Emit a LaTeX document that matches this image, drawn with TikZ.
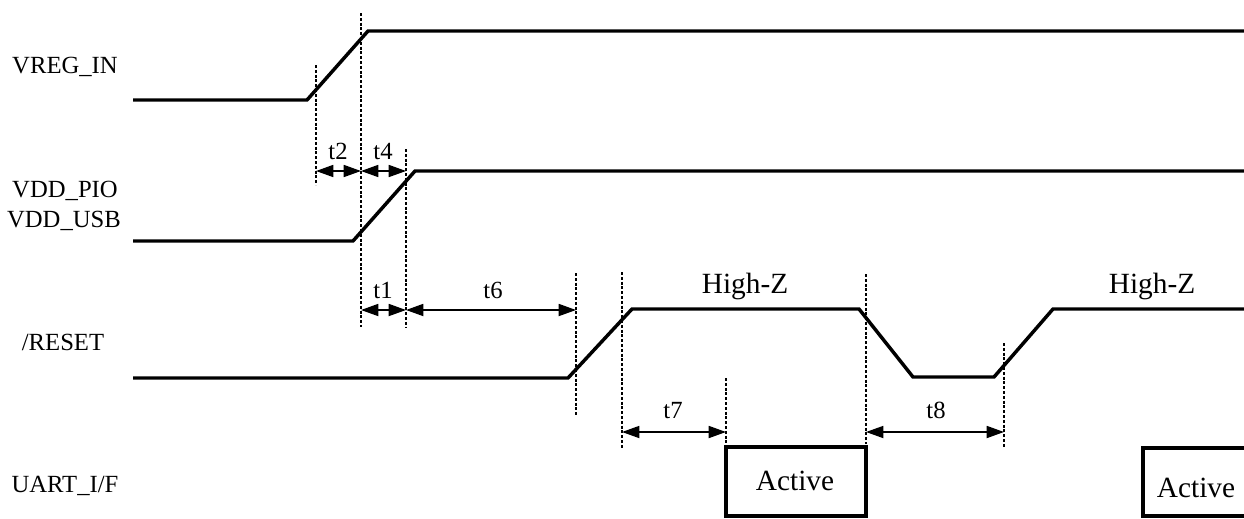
\documentclass[tikz,border=0pt]{standalone}
\usepackage{fontspec}
\setmainfont{Liberation Serif}
\usetikzlibrary{arrows.meta}
\begin{document}
\begin{tikzpicture}[x=0.75pt,y=-0.75pt,
  sig/.style={line width=2.6pt},
  guide/.style={line width=0.8pt, dash pattern=on 2.2pt off 1.4pt},
  dim/.style={line width=1.3pt, {Triangle[length=13pt,width=9pt]}-{Triangle[length=13pt,width=9pt]}},
  lbl/.style={font=\fontsize{18.5}{20}\selectfont, inner sep=0pt, anchor=base},
  big/.style={font=\fontsize{22}{24}\selectfont, inner sep=0pt, anchor=base}]
\useasboundingbox (0,0) rectangle (1244,518);

% signal labels
\node[lbl] (lvreg) at (65,73) {VREG\_IN};
\node[lbl] (lpio) at (65,197) {VDD\_PIO};
\node[lbl] (lusb) at (64,227) {VDD\_USB};
\node[lbl] (lrst) at (63,350) {/RESET};
\node[lbl] (luart) at (65,492) {UART\_I/F};

% VREG_IN
\coordinate (v0) at (133,100);
\coordinate (v1) at (307,100);
\coordinate (v2) at (368,31);
\coordinate (v3) at (1250,31);
\draw[sig] (v0) -- (v1) -- (v2) -- (v3);

% VDD
\coordinate (p0) at (133,241);
\coordinate (p1) at (353,241);
\coordinate (p2) at (415,171);
\coordinate (p3) at (1250,171);
\draw[sig] (p0) -- (p1) -- (p2) -- (p3);

% RESET
\coordinate (r0) at (133,378);
\coordinate (r1) at (568,378);
\coordinate (r2) at (632,309);
\coordinate (r3) at (859,309);
\coordinate (r4) at (913,377);
\coordinate (r5) at (994,377);
\coordinate (r6) at (1053,309);
\coordinate (r7) at (1250,309);
\draw[sig] (r0) -- (r1) -- (r2) -- (r3) -- (r4) -- (r5) -- (r6) -- (r7);

% UART boxes
\draw[sig] (726,447) rectangle (866,516);
\draw[sig] (1250,448) -- (1143,448) -- (1143,516) -- (1250,516);
\node[big] (act1) at (795,490) {Active};
\node[big] (act2) at (1196,497) {Active};
\node[big] (hz1) at (745,293) {High-Z};
\node[big] (hz2) at (1152,293) {High-Z};

% guide lines
\draw[guide] (316,65) -- (316,185);
\draw[guide] (361,13) -- (361,327);
\draw[guide] (406,149) -- (406,327);
\draw[guide] (576,273) -- (576,415);
\draw[guide] (622,272) -- (622,449);
\draw[guide] (726,378) -- (726,447);
\draw[guide] (866,274) -- (866,444);
\draw[guide] (1004,343) -- (1004,447);

% dimension arrows
\coordinate (a2l) at (316,171); \coordinate (a2r) at (361,171);
\coordinate (a4r) at (406,171);
\coordinate (a1l) at (361,310); \coordinate (a1r) at (406,310);
\coordinate (a6r) at (576,310);
\coordinate (a7l) at (622,432); \coordinate (a7r) at (726,432);
\coordinate (a8l) at (866,432); \coordinate (a8r) at (1004,432);
\draw[dim] (a2l) -- (a2r);
\draw[dim] (a2r) -- (a4r);
\draw[dim] (a1l) -- (a1r);
\draw[dim] (a1r) -- (a6r);
\draw[dim] (a7l) -- (a7r);
\draw[dim] (a8l) -- (a8r);
\node[lbl] (t2) at (338,159) {t2};
\node[lbl] (t4) at (383,159) {t4};
\node[lbl] (t1) at (383,298) {t1};
\node[lbl] (t6) at (493,298) {t6};
\node[lbl] (t7) at (673,418) {t7};
\node[lbl] (t8) at (936,418) {t8};
\end{tikzpicture}
\end{document}
